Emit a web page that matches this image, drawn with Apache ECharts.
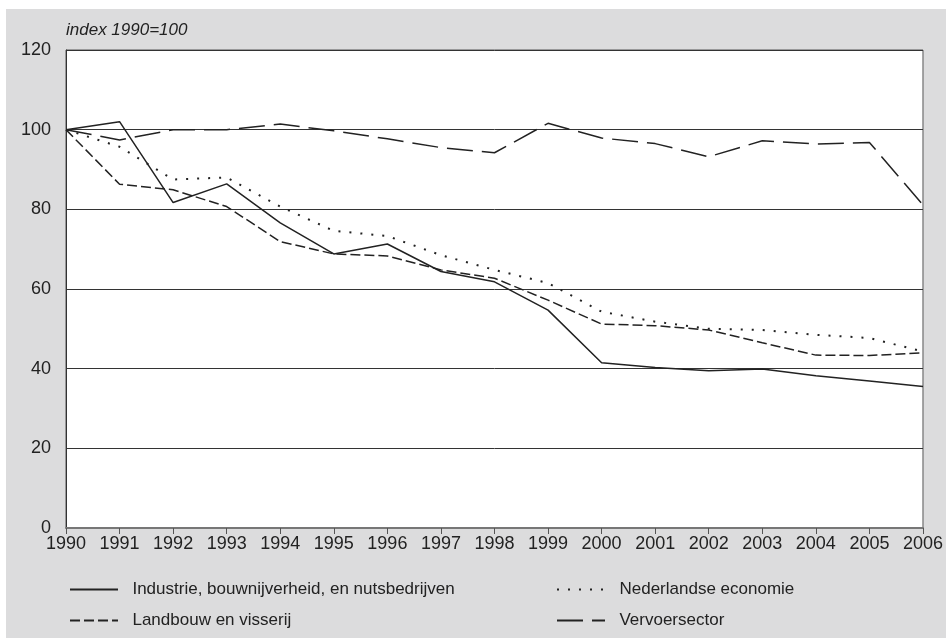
<!DOCTYPE html>
<html>
<head>
<meta charset="utf-8">
<script src="https://cdn.jsdelivr.net/npm/echarts@6/dist/echarts.min.js"></script>
<style>
  html, body { margin: 0; padding: 0; background: #fff; }
  #chart { width: 946px; height: 638px; }
</style>
</head>
<body>
<div id="chart"></div>
<script>
const years = ['1990', '1991', '1992', '1993', '1994', '1995', '1996', '1997', '1998',
  '1999', '2000', '2001', '2002', '2003', '2004', '2005', '2006']

const industrie = [100, 102, 81.7, 86.4, 76.6, 68.8, 71.3, 64.4, 61.8, 54.7, 41.5, 40.3, 39.5, 39.9, 38.2, 36.9, 35.5]
const economie = [100, 95.7, 87.5, 88.0, 80.7, 74.6, 73.3, 68.5, 64.8, 61.5, 54.3, 51.8, 50.0, 49.7, 48.5, 47.7, 44.3]
const landbouw = [100, 86.3, 84.9, 80.7, 71.9, 68.8, 68.3, 64.8, 62.7, 57.2, 51.2, 50.8, 49.7, 46.5, 43.4, 43.3, 44.0]
const vervoer = [100, 97.4, 100, 100, 101.4, 99.7, 97.7, 95.5, 94.2, 101.6, 97.9, 96.5, 93.2, 97.2, 96.4, 96.8, 81.1]

const ink = '#222'
const font = 'Liberation Sans'

function line (name, data, type, width) {
  return {
    name, type: 'line', data, symbol: 'none',
    lineStyle: { color: ink, width: width || 1.5, type },
    itemStyle: { color: ink }
  }
}

// one legend per item so the two columns line up like the original
function legendAt (name, left, top) {
  return {
    data: [name], left, top, itemWidth: 48, itemHeight: 12, selectedMode: false,
    itemStyle: { opacity: 0 },
    formatter: '  {name}',
    textStyle: { fontFamily: font, fontSize: 17, color: ink }
  }
}

const chart = echarts.init(document.getElementById('chart'))
chart.setOption({
  animation: false,
  textStyle: { fontFamily: font },
  graphic: [{
    type: 'rect', z: -10, silent: true,
    shape: { x: 6, y: 9, width: 940, height: 629 },
    style: { fill: '#dcdcdd' }
  }, {
    type: 'text', left: 66, top: 22,
    style: { text: 'index 1990=100', font: 'italic 17px "Liberation Sans"', fill: ink }
  }],
  grid: {
    left: 66, right: 23, top: 50, bottom: 110,
    show: true, backgroundColor: '#fff', borderColor: '#555', borderWidth: 1
  },
  legend: [
    legendAt('Industrie, bouwnijverheid, en nutsbedrijven', 64, 576),
    legendAt('Nederlandse economie', 551, 576),
    legendAt('Landbouw en visserij', 64, 607),
    legendAt('Vervoersector', 551, 607)
  ],
  xAxis: {
    type: 'category', data: years, boundaryGap: false,
    axisLine: { lineStyle: { color: '#777', width: 2 } },
    axisTick: { show: true, length: 6, lineStyle: { color: '#555' } },
    axisLabel: { color: ink, fontSize: 18, margin: 7, interval: 0 },
    splitLine: { show: false }
  },
  yAxis: {
    type: 'value', min: 0, max: 120, interval: 20,
    axisLine: { show: true, lineStyle: { color: '#333' } },
    axisTick: { show: false },
    axisLabel: { color: ink, fontSize: 18, margin: 15 },
    splitLine: { lineStyle: { color: '#333', width: 1 } }
  },
  series: [
    line('Industrie, bouwnijverheid, en nutsbedrijven', industrie, 'solid'),
    line('Nederlandse economie', economie, [2, 9], 2),
    line('Landbouw en visserij', landbouw, [10, 4]),
    line('Vervoersector', vervoer, [26, 9])
  ]
})
</script>
</body>
</html>
